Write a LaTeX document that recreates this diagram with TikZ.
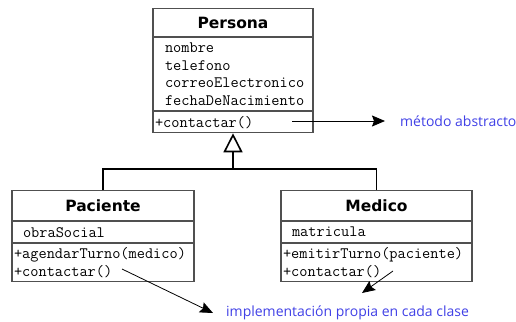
\documentclass[tikz,border=0pt]{standalone}
\usepackage{fontspec}
\newfontfamily\titlefont{DejaVu Sans}
\newfontfamily\notefont{Open Sans}
\usetikzlibrary{positioning,arrows.meta}
\definecolor{notecolor}{RGB}{64,64,230}
\definecolor{boxline}{RGB}{80,80,80}

\begin{document}
\begin{tikzpicture}[x=1pt,y=-1pt,
        classname/.style={draw=boxline,line width=1.1pt,fill=white,inner sep=0pt,
            font=\titlefont\bfseries\fontsize{15.5}{18}\selectfont},
        classpart/.style={draw=boxline,line width=1.1pt,fill=white,inner ysep=0pt,
            align=left,font=\ttfamily\fontsize{15.9}{17.7}\selectfont},
        note/.style={anchor=west,inner sep=0pt,text=notecolor,
            font=\notefont\fontsize{14}{16}\selectfont},
        pointer/.style={-{Stealth[length=13pt,width=11pt,inset=2pt]},line width=0.8pt},
        inherit/.style={line width=1.6pt}
    ]
        \useasboundingbox (0,0) rectangle (516,321);

        % Define the classes
        \node[classname,minimum width=160pt,minimum height=28pt,anchor=north] (Persona) at (233,8) {Persona};
        \node[classpart,inner xsep=12pt,text width=136pt,minimum height=73pt,below=0pt of Persona] (PersonaAttr)
            {nombre\\telefono\\correoElectronico\\fechaDeNacimiento};
        \node[classpart,inner xsep=2pt,text width=156pt,minimum height=21pt,below=0pt of PersonaAttr] (PersonaMeth)
            {+contactar()};

        \node[classname,minimum width=182pt,minimum height=30pt,anchor=north] (Paciente) at (103,190) {Paciente};
        \node[classpart,inner xsep=11pt,text width=160pt,minimum height=21pt,below=0pt of Paciente] (PacienteAttr)
            {obraSocial};
        \node[classpart,inner xsep=2pt,text width=178pt,minimum height=38pt,below=0pt of PacienteAttr] (PacienteMeth)
            {+agendarTurno(medico)\\+contactar()};

        \node[classname,minimum width=191pt,minimum height=30pt,anchor=north] (Medico) at (376.5,190) {Medico};
        \node[classpart,inner xsep=11pt,text width=169pt,minimum height=21pt,below=0pt of Medico] (MedicoAttr)
            {matricula};
        \node[classpart,inner xsep=2pt,text width=187pt,minimum height=38pt,below=0pt of MedicoAttr] (MedicoMeth)
            {+emitirTurno(paciente)\\+contactar()};

        % Inheritance
        \coordinate (join) at (233,169);
        \draw[inherit] (Paciente.north) |- (join);
        \draw[inherit] (Medico.north) |- (join);
        \draw[inherit,-{Triangle[open,length=19pt,width=19pt,line width=1.6pt,fill=white]}] (join) -- (PersonaMeth.south);

        % Notes
        \node[note] (abstractNote) at (400,121) {método abstracto};
        \node[note] (implNote) at (226,313) {implementación propia en cada clase};

        \coordinate (abstractFrom) at (292,121);
        \coordinate (pacienteFrom) at (122,269);
        \coordinate (medicoFrom) at (393,271);
        \coordinate (pacienteTip) at (213,313);
        \coordinate (medicoTip) at (362,293);

        \draw[pointer,shorten >=15pt] (abstractFrom) -- (abstractNote.west);
        \draw[pointer] (pacienteFrom) -- (pacienteTip);
        \draw[pointer] (medicoFrom) -- (medicoTip);
    \end{tikzpicture}
\end{document}
